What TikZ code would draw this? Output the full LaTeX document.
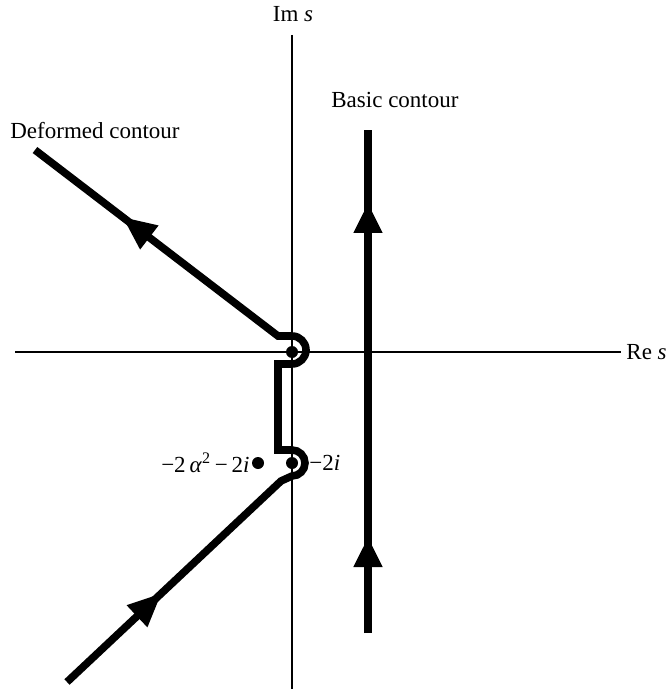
\documentclass[tikz,border=0pt]{standalone}
\usepackage{fontspec}
\setmainfont{Liberation Serif}
\usetikzlibrary{arrows.meta,decorations.markings}
\begin{document}
\begin{tikzpicture}[x=0.5pt,y=-0.5pt,
  axis/.style={line width=0.7pt},
  contour/.style={line width=3.8pt,line join=miter},
  pole/.style={circle,fill,inner sep=0pt,minimum size=6pt},
  lbl/.style={font=\fontsize{11.5}{13}\selectfont,inner sep=0pt},
  tip/.style={postaction={decorate},decoration={markings,#1}}]
\useasboundingbox (0,0) rectangle (669,689);
% axes
\coordinate (xl) at (15,352);
\coordinate (xr) at (621,352);
\coordinate (yt) at (292,35);
\coordinate (yb) at (292,689);
\draw[axis] (xl) -- (xr);
\draw[axis] (yt) -- (yb);
\node[lbl,anchor=west] (re) at (626,352) {Re \textit{s}};
\node[lbl] (im) at (293,14) {Im \textit{s}};
% poles
\node[pole] (p0) at (292,352) {};
\node[pole] (p1) at (292,463) {};
\node[pole] (p2) at (258,463) {};
\node[lbl,anchor=east] (l2) at (250,463) {−2\,\textit{α}\textsuperscript{2}\,−\,2\textit{i}};
\node[lbl,anchor=west] (l1) at (309,463) {−2\textit{i}};
% basic contour
\coordinate (b0) at (368,633);
\coordinate (b1) at (368,130);
\draw[contour,tip={mark=at position 48pt with {\arrow{Triangle[length=15pt,width=13.5pt]}},
  mark=at position 215pt with {\arrow{Triangle[length=15pt,width=13.5pt]}}}] (b0) -- (b1);
\node[lbl,anchor=west] (bl) at (331,100) {Basic contour};
% deformed contour
\coordinate (d0) at (67,682);
\coordinate (d1) at (35,150);
\draw[contour,tip={mark=at position 65pt with {\arrow{Triangle[length=17pt,width=14pt]}},
  mark=at position -55pt with {\arrow{Triangle[length=17pt,width=14pt]}}}]
  (d0) -- (281,481) -- (292,476) arc[start angle=90,end angle=-90,radius=13]
  -- (278,450) -- (278,364) -- (292,364) arc[start angle=90,end angle=-90,radius=14]
  -- (278,336) -- (d1);
\node[lbl] (dl) at (95,131) {Deformed contour};
\end{tikzpicture}
\end{document}
